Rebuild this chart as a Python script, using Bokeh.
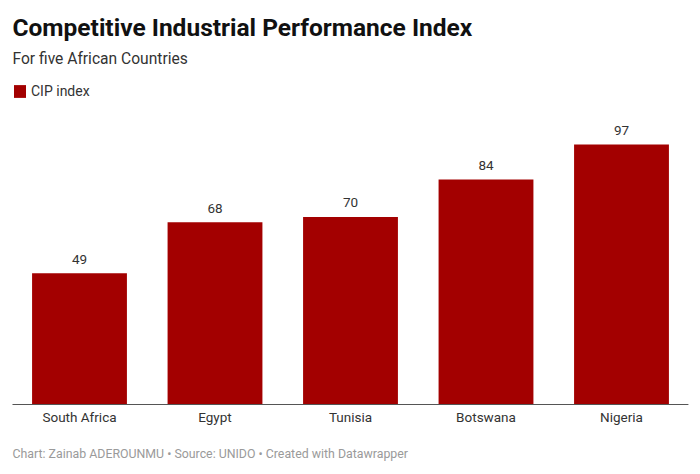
from bokeh.plotting import figure
from bokeh.models import Range1d, Label, Legend, LegendItem, ColumnDataSource
from bokeh.core.properties import value
from bokeh.embed import file_html
from bokeh.resources import INLINE

countries = ["South Africa", "Egypt", "Tunisia", "Botswana", "Nigeria"]
cip_index = [49, 68, 70, 84, 97]
value_labels = [str(v) for v in cip_index]

title_text = "Competitive Industrial Performance Index"
subtitle_text = "For five African Countries"
legend_text = "CIP index"
footer_text = "Chart: Zainab ADEROUNMU \u2022 Source: UNIDO \u2022 Created with Datawrapper"

BAR = "#a30000"
FONT = "Roboto"

W, H = 692, 466
px_per_unit = 2.68
px_per_band = 135.5
base_from_bottom = 62
first_center = 79

xs = list(range(len(countries)))
src = ColumnDataSource(dict(x=xs, top=cip_index, lab=value_labels, cat=countries))

x0 = -first_center / px_per_band
p = figure(width=W, height=H, output_backend="svg", toolbar_location=None,
           x_range=Range1d(x0, x0 + W / px_per_band),
           y_range=Range1d(-base_from_bottom / px_per_unit, (H - base_from_bottom) / px_per_unit),
           x_axis_location=None, y_axis_location=None,
           min_border=0, min_border_left=0, min_border_right=0,
           min_border_top=0, min_border_bottom=0)
p.outline_line_color = None
p.grid.visible = False
p.background_fill_color = "white"
p.border_fill_color = "white"

bars = p.vbar(x="x", top="top", bottom=0, width=0.70, source=src,
              fill_color=BAR, line_color=None)

# value labels
p.text(x="x", y="top", text="lab", source=src, text_align="center",
       text_baseline="alphabetic", y_offset=-14, text_font=value(FONT),
       text_font_size="13.5px", text_color="#333333")

# category labels
p.text(x="x", y=0, text="cat", source=src, text_align="center",
       text_baseline="alphabetic", y_offset=12, text_font=value(FONT),
       text_font_size="13.5px", text_color="#333333")

# baseline
p.segment(x0=-0.4945, y0=0, x1=4.494, y1=0, line_color="#555555", line_width=1)

p.add_layout(Label(x=12, y=H - 26.5, x_units="screen", y_units="screen", text=title_text,
                   text_font=FONT, text_font_size="24.5px", text_font_style="bold",
                   text_color="#111111", text_baseline="alphabetic"))
p.add_layout(Label(x=12, y=H - 58.3, x_units="screen", y_units="screen", text=subtitle_text,
                   text_font=FONT, text_font_size="15.6px", text_color="#333333",
                   text_baseline="alphabetic"))
p.add_layout(Label(x=12, y=13, x_units="screen", y_units="screen", text=footer_text,
                   text_font=FONT, text_font_size="12.35px", text_color="#9a9a9a",
                   text_baseline="alphabetic"))

legend = Legend(items=[LegendItem(label=legend_text, renderers=[bars])],
                location=(12, H - 99), orientation="horizontal",
                glyph_width=15, glyph_height=16, label_standoff=4,
                padding=0, margin=0, spacing=0, border_line_color=None,
                background_fill_alpha=0, label_text_font=FONT,
                label_text_font_size="14px", label_text_color="#333333",
                label_height=16)
p.add_layout(legend)

open("out.html", "w").write(file_html(p, INLINE))
